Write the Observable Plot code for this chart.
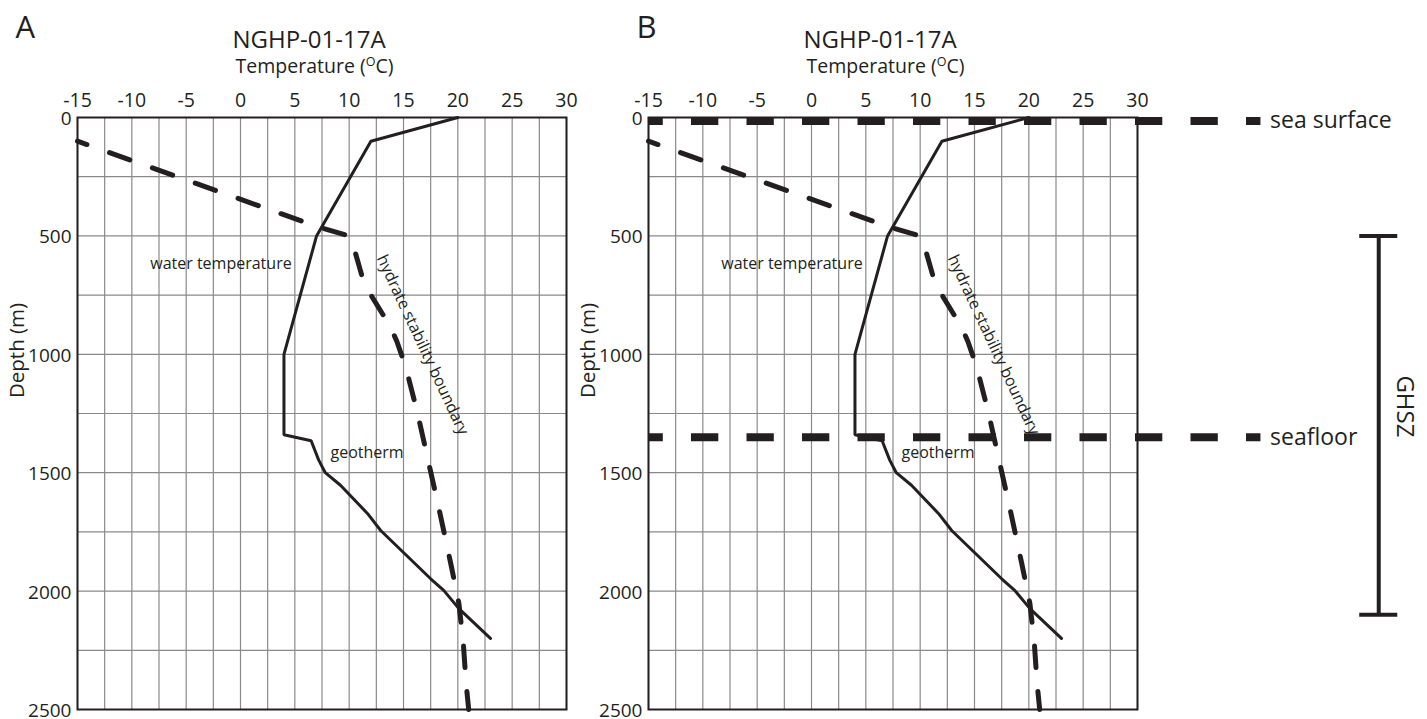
<!DOCTYPE html>
<html>
<head>
<meta charset="utf-8">
<script src="https://cdn.jsdelivr.net/npm/d3@7"></script>
<script src="https://cdn.jsdelivr.net/npm/@observablehq/plot@0.6"></script>
<style>
  body { margin: 0; background: #fff; }
  #wrap { position: relative; width: 1427px; height: 719px; overflow: hidden; }
  #wrap svg { position: absolute; top: 0; overflow: visible; }
</style>
</head>
<body>
<div id="wrap"></div>
<script>
// ---------- data ----------
const wellName = "NGHP-01-17A";
const xLabel = "Temperature (°C)";
const yLabel = "Depth (m)";
const panelLetters = ["A", "B"];

const xTicks = [-15, -10, -5, 0, 5, 10, 15, 20, 25, 30];
const yTicks = [0, 500, 1000, 1500, 2000, 2500];
const xGrid = [-15, -12.5, -10, -7.5, -5, -2.5, 0, 2.5, 5, 7.5, 10, 12.5, 15, 17.5, 20, 22.5, 25, 27.5, 30];
const yGrid = [0, 250, 500, 750, 1000, 1250, 1500, 1750, 2000, 2250, 2500];

// water temperature + geotherm (solid line)
const geoTemp  = [20, 12, 7, 4, 4, 6.5, 7.2, 7.8, 9.2, 11.7, 12.9, 17.5, 18.7, 20.1, 23];
const geoDepth = [0, 100, 500, 1000, 1340, 1365, 1447, 1500, 1553, 1673, 1744, 1948, 1997, 2074, 2200];

// hydrate stability boundary (dashed line)
const hsbTemp  = [-15, 7, 10, 10.5, 11.2, 12.1, 13.8, 14.4, 15.2, 16.3, 17.3, 18.3, 19.35, 20.1, 20.5, 20.75, 21];
const hsbDepth = [100, 460, 500, 560, 673, 757, 884, 947, 1053, 1250, 1455, 1660, 1884, 2053, 2216, 2385, 2500];

// in-plot labels
const curveLabels = ["water temperature", "geotherm", "hydrate stability boundary"];
const curveLabelTemp = [-1.8, 11.65, 16.75];
const curveLabelDepth = [620, 1415, 960];

// panel B reference levels
const levelNames = ["sea surface", "seafloor"];
const levelDepths = [15, 1350];
const levelExtent = [-15, 41.36];   // temperature-axis extent of the dashed level lines
const levelLabelTemp = 42.2;

// gas hydrate stability zone bar
const ghszName = "GHSZ";
const ghszDepths = [500, 2100];
const ghszTemp = 52.2;
const ghszCap = 1.75;
const ghszLabelTemp = 54.6;
const ghszLabelDepth = 1220;

// ---------- build ----------
const geotherm = geoTemp.map((t, i) => ({t, d: geoDepth[i]}));
const hydrate = hsbTemp.map((t, i) => ({t, d: hsbDepth[i]}));
const labels = curveLabels.map((s, i) => ({s, t: curveLabelTemp[i], d: curveLabelDepth[i], rot: i === 2 ? 65 : 0}));
const levels = levelNames.map((s, i) => ({s, d: levelDepths[i]}));

const FONT = "'Open Sans', 'Noto Sans', sans-serif";
const INK = "#231f20";
const GRID = "#8a8a8a";

function panel(letter, width, marginLeft, marginRight, withAnnotations) {
  const marks = [
    Plot.ruleX(xGrid, {x: d => d, stroke: GRID, strokeWidth: 1.2}),
    Plot.ruleY(yGrid, {y: d => d, stroke: GRID, strokeWidth: 1.2}),
    Plot.frame({stroke: INK, strokeWidth: 2}),
    Plot.axisX(xTicks, {anchor: "top", tickSize: 0, tickPadding: 11, tickFormat: d => String(d), label: null, fill: INK, fontSize: 19.5}),
    Plot.axisY(yTicks, {anchor: "left", tickSize: 0, tickPadding: 6, dy: 1.5, tickFormat: d => String(d), label: null, fill: INK, fontSize: 19}),
    Plot.line(hydrate, {x: "t", y: "d", stroke: INK, strokeWidth: 5, strokeDasharray: "21.5,24", strokeDashoffset: 11.5, strokeLinecap: "round", strokeLinejoin: "round"}),
    Plot.line(geotherm, {x: "t", y: "d", stroke: INK, strokeWidth: 3, strokeLinejoin: "miter"}),
    Plot.text(labels, {x: "t", y: "d", text: "s", rotate: "rot", fontSize: 16, fill: INK, textAnchor: "middle", lineAnchor: "middle"}),
    Plot.text([letter], {frameAnchor: "top-left", dx: letter === "A" ? -62 : -12, dy: -80, text: d => d, fontSize: 31, fill: INK, textAnchor: "start", lineAnchor: "bottom"}),
    Plot.text([wellName], {frameAnchor: "top", dx: -13, dy: -70, text: d => d, fontSize: 24, fill: INK, lineAnchor: "bottom"}),
    Plot.text([xLabel], {frameAnchor: "top", dx: -7.5, dy: -45, text: d => d, fontSize: 19.5, fill: INK, lineAnchor: "bottom"}),
    Plot.text([yLabel], {frameAnchor: "left", dx: -60, y: () => 1185, text: d => d, fontSize: 20.5, fill: INK, rotate: -90, lineAnchor: "middle"})
  ];
  if (withAnnotations) {
    marks.push(
      Plot.ruleY(levels, {y: "d", x1: () => levelExtent[0], x2: () => levelExtent[1], stroke: INK, strokeWidth: 8, strokeDasharray: "27.3,28.2", strokeDashoffset: 12.5}),
      Plot.text(levels, {x: () => levelLabelTemp, y: "d", text: "s", fontSize: 23, fill: INK, textAnchor: "start", lineAnchor: "middle"}),
      Plot.ruleX([ghszTemp], {x: d => d, y1: () => ghszDepths[0], y2: () => ghszDepths[1], stroke: INK, strokeWidth: 4}),
      Plot.ruleY(ghszDepths, {y: d => d, x1: () => ghszTemp - ghszCap, x2: () => ghszTemp + ghszCap, stroke: INK, strokeWidth: 4}),
      Plot.text([ghszName], {x: () => ghszLabelTemp, y: () => ghszLabelDepth, text: d => d, fontSize: 24, fill: INK, rotate: 90, textAnchor: "middle", lineAnchor: "middle"})
    );
  }
  const svg = Plot.plot({
    width, height: 719,
    marginLeft, marginRight, marginTop: 117, marginBottom: 10,
    x: {domain: [-15, 30]},
    y: {domain: [0, 2500], reverse: true},
    style: {fontFamily: FONT, fontSize: "19.5px", color: INK, background: "transparent", overflow: "visible"},
    marks
  });
  // superscript "O" in the temperature label
  d3.select(svg).selectAll("text").filter(function () { return this.textContent === xLabel; }).each(function () {
    const t = d3.select(this);
    t.text(null);
    t.append("tspan").text("Temperature (");
    t.append("tspan").attr("dy", "-7").attr("font-size", "12.5").text("O");
    t.append("tspan").attr("dy", "7").text("C)");
  });
  return svg;
}

const wrap = document.getElementById("wrap");
const a = panel(panelLetters[0], 600, 77, 34, false);
a.style.left = "0px";
wrap.appendChild(a);
const b = panel(panelLetters[1], 827, 48, 290, true);
b.style.left = "600px";
wrap.appendChild(b);
</script>
</body>
</html>
